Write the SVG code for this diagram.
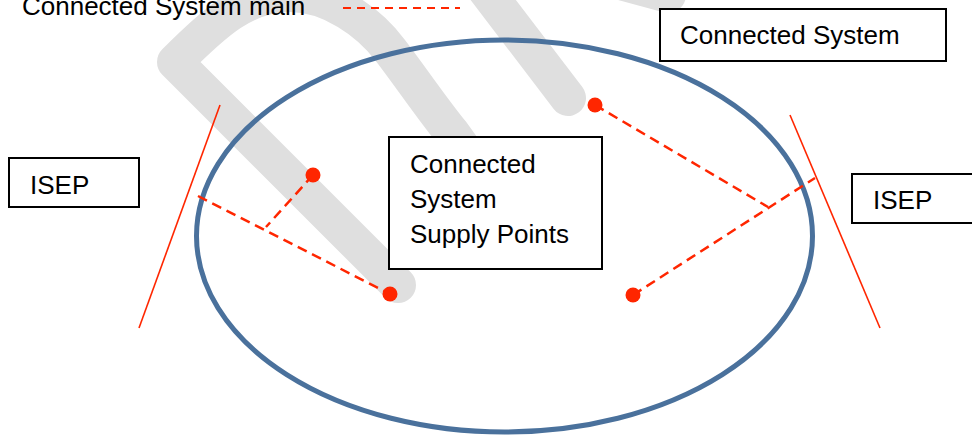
<svg xmlns="http://www.w3.org/2000/svg" width="972" height="435" viewBox="0 0 972 435">
  <defs>
    <style>
      .wm { fill: none; stroke: #dfdfdf; stroke-width: 36; stroke-linecap: round; stroke-linejoin: round; }
      .box { fill: #ffffff; stroke: #000000; stroke-width: 2; }
      .txt { font-family: "Liberation Sans", Arial, sans-serif; font-size: 26px; fill: #000000; }
      .dash { fill: none; stroke: #ff2600; stroke-width: 2.5; stroke-dasharray: 10 6; }
      .isep { stroke: #ff2600; stroke-width: 1.6; fill: none; }
      .dot { fill: #ff2600; }
    </style>
  </defs>
  <rect width="972" height="435" fill="#ffffff"/>

  <g id="watermark">
    <path class="wm" d="M 398 285 L 175 62 C 215 22, 245 -6, 290 -6 C 330 -6, 369 22, 390 50 C 410 76, 433 110, 452 133 L 500 200"/>
    <path class="wm" d="M 478 -20 L 568 98"/>
    <path class="wm" d="M 540 -40 L 668 -5"/>
  </g>

  <g id="connected-system-area">
    <ellipse cx="504.5" cy="236" rx="308" ry="196" fill="none" stroke="#4a719c" stroke-width="5"/>
  </g>

  <g id="isep-boundary-left">
    <line class="isep" x1="220" y1="105" x2="139" y2="328"/>
  </g>
  <g id="isep-boundary-right">
    <line class="isep" x1="790" y1="115" x2="880" y2="328"/>
  </g>

  <g id="connectors">
    <line class="dash" x1="198" y1="196" x2="390" y2="294"/>
    <line class="dash" x1="313" y1="175" x2="266" y2="227"/>
    <line class="dash" x1="633" y1="295" x2="815" y2="178"/>
    <line class="dash" x1="595" y1="105" x2="768" y2="207"/>
  </g>

  <g id="supply-points">
    <circle class="dot" cx="313" cy="175" r="7.5"/>
    <circle class="dot" cx="390" cy="294" r="7.5"/>
    <circle class="dot" cx="595" cy="105" r="7.5"/>
    <circle class="dot" cx="633" cy="295" r="7.5"/>
  </g>

  <g id="legend">
    <text class="txt" x="22" y="15">Connected System main</text>
    <line x1="343" y1="8" x2="460" y2="8" stroke="#ff2600" stroke-width="2" stroke-dasharray="8 6"/>
  </g>

  <g id="connected-system-label">
    <rect class="box" x="660" y="9" width="286" height="52"/>
    <text class="txt" x="680" y="44">Connected System</text>
  </g>

  <g id="supply-points-label">
    <rect class="box" x="389" y="137" width="213" height="132"/>
    <text class="txt" x="410" y="173">Connected</text>
    <text class="txt" x="410" y="208">System</text>
    <text class="txt" x="410" y="243">Supply Points</text>
  </g>

  <g id="isep-left">
    <rect class="box" x="9" y="158" width="130" height="49"/>
    <text class="txt" x="30" y="194">ISEP</text>
  </g>

  <g id="isep-right">
    <rect class="box" x="852" y="174" width="140" height="49"/>
    <text class="txt" x="873" y="209">ISEP</text>
  </g>
</svg>
